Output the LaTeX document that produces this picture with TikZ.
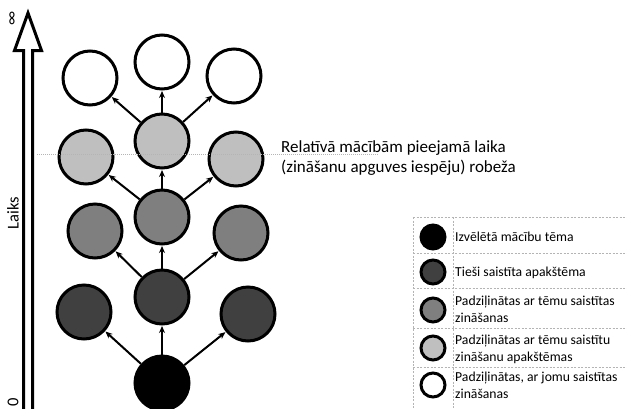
\documentclass[tikz,border=0pt]{standalone}
\usepackage{fontspec}
\setmainfont{Carlito}
\usetikzlibrary{arrows.meta}

\definecolor{topicblack}{HTML}{000000}
\definecolor{subdark}{HTML}{404040}
\definecolor{deepmid}{HTML}{7F7F7F}
\definecolor{deeplight}{HTML}{BFBFBF}
\definecolor{gridgray}{HTML}{B4B4B4}

\begin{document}
\begin{tikzpicture}[x=1pt,y=-1pt,
  knot/.style={circle,draw=black,line width=3pt,minimum size=54pt,inner sep=0pt},
  lknot/.style={circle,draw=black,line width=3pt,minimum size=24pt,inner sep=0pt},
  link/.style={line width=2pt,-{Stealth[length=7pt,width=6pt]},shorten >=0.5pt},
  legline/.style={draw=gridgray,line width=0.7pt,dash pattern=on 2pt off 1.5pt},
  legtext/.style={anchor=base west,inner sep=0pt,align=left,font=\fontsize{13.7}{17}\selectfont},
  axislabel/.style={rotate=90,inner sep=0pt,font=\fontsize{16.5}{18}\selectfont}
]
\useasboundingbox (0,0) rectangle (627,408);

% time axis: hollow arrow
\draw[line width=3pt,line join=miter,fill=white]
  (23.5,412) -- (23.5,50.5) -- (14.5,50.5) -- (28,13) -- (41.5,50.5) -- (32.5,50.5) -- (32.5,412);
\node[axislabel] (inf) at (13,18) {∞};
\node[axislabel] (zero) at (13,402) {0};
\node[axislabel] (laiks) at (13,213) {Laiks};

% knowledge tree
\node[knot,fill=topicblack] (n0) at (162,383) {};
\node[knot,fill=subdark] (d1) at (84,312) {};
\node[knot,fill=subdark] (d2) at (162,297) {};
\node[knot,fill=subdark] (d3) at (248,314) {};
\node[knot,fill=deepmid] (m1) at (95,231) {};
\node[knot,fill=deepmid] (m2) at (162,217) {};
\node[knot,fill=deepmid] (m3) at (241,233) {};
\node[knot,fill=deeplight] (l1) at (86,157) {};
\node[knot,fill=deeplight] (l2) at (162,141) {};
\node[knot,fill=deeplight] (l3) at (236,159) {};
\node[knot,fill=white] (w1) at (90,78) {};
\node[knot,fill=white] (w2) at (162,62) {};
\node[knot,fill=white] (w3) at (234,76) {};

\foreach \p/\a/\b/\c in {n0/d1/d2/d3, d2/m1/m2/m3, m2/l1/l2/l3, l2/w1/w2/w3}{
  \draw[link] (\p) -- (\a);
  \draw[link] (\p) -- (\b);
  \draw[link] (\p) -- (\c);
}

% time limit line
\coordinate (limA) at (37,154);
\coordinate (limB) at (378,154);
\draw[gridgray,line width=0.8pt,dash pattern=on 1pt off 1pt] (limA) -- (limB);
% base anchor of a multi-line node sits on its last line
\node[anchor=base west,inner sep=0pt,align=left,font=\fontsize{17}{20}\selectfont] (limit) at (281,172)
  {Relatīvā mācībām pieejamā laika\\(zināšanu apguves iespēju) robeža};

% legend grid
\draw[legline] (413,217) -- (413,410);
\draw[legline] (453,217) -- (453,410);
\foreach \y in {217,253,288,328,367}{
  \draw[legline] (413,\y) -- (627,\y);
}
\node[lknot,fill=topicblack] (lg1) at (433,237) {};
\node[lknot,fill=subdark] (lg2) at (433,272) {};
\node[lknot,fill=deepmid] (lg3) at (433,310) {};
\node[lknot,fill=deeplight] (lg4) at (433,348) {};
\node[lknot,fill=white] (lg5) at (433,385) {};
\node[legtext] (t1) at (455,241) {Izvēlētā mācību tēma};
\node[legtext] (t2) at (455,276) {Tieši saistīta apakštēma};
\node[legtext] (t3) at (455,322) {Padziļinātas ar tēmu saistītas\\zināšanas};
\node[legtext] (t4) at (455,361) {Padziļinātas ar tēmu saistītu\\zināšanu apakštēmas};
\node[legtext] (t5) at (455,398) {Padziļinātas, ar jomu saistītas\\zināšanas};
\end{tikzpicture}
\end{document}
